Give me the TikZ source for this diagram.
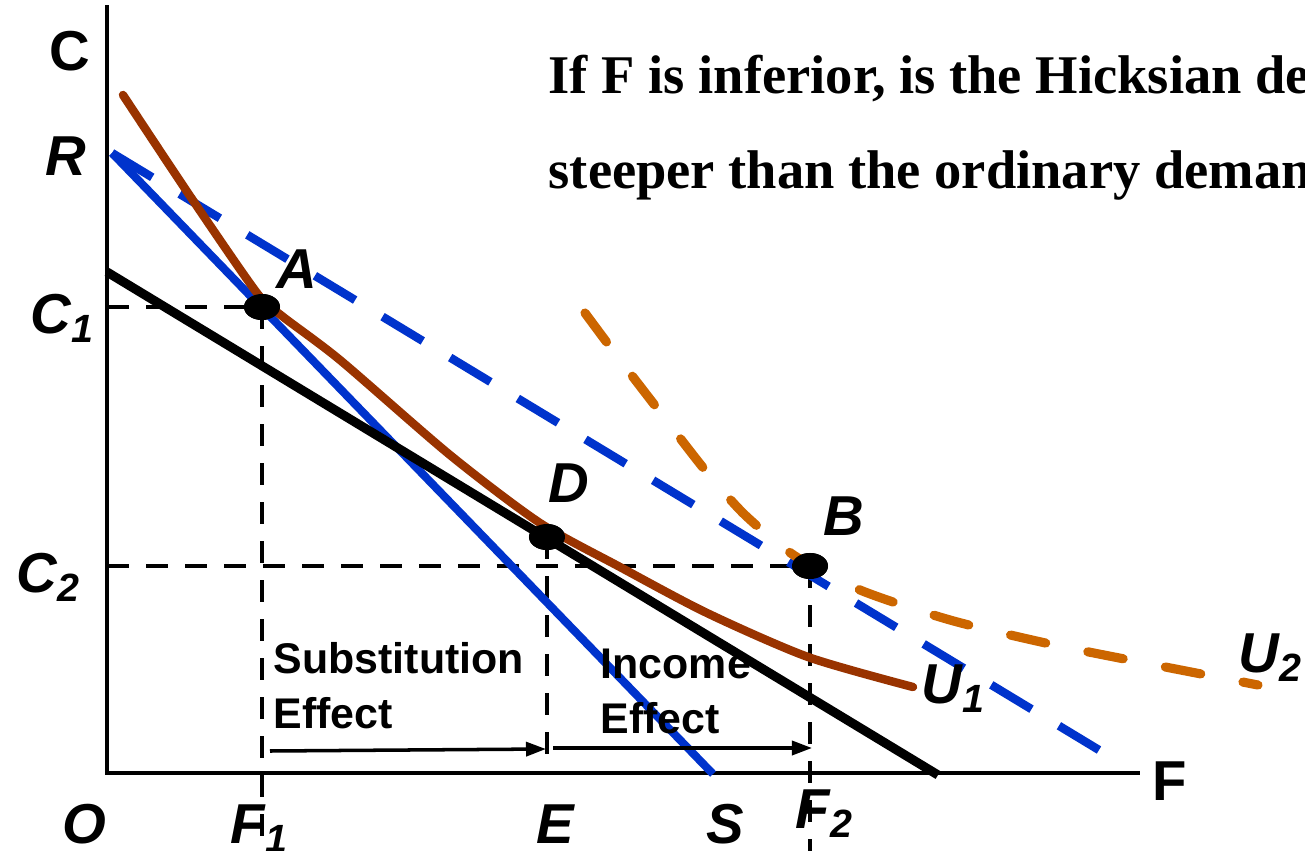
\documentclass[tikz,border=0pt]{standalone}
\usepackage{fontspec}
\setmainfont{Liberation Serif}
\newfontfamily\arialfont{Liberation Sans}
\usetikzlibrary{arrows.meta,shapes.geometric}
\definecolor{lineblue}{HTML}{0033CC}
\definecolor{ubrown}{HTML}{993300}
\definecolor{uorange}{HTML}{CC6600}
\begin{document}
\begin{tikzpicture}[x=0.01cm,y=-0.01cm,
  axisline/.style={line width=1.2pt},
  guide/.style={line width=1pt, dash pattern=on 0.22cm off 0.17cm},
  budget/.style={line width=2.6pt},
  bluesolid/.style={lineblue, line width=2.3pt},
  bluedash/.style={lineblue, line width=2.4pt, dash pattern=on 0.47cm off 0.32cm},
  ucurve/.style={ubrown, line width=2.4pt, line cap=round},
  udash/.style={uorange, line width=2.6pt, line cap=round, dash pattern=on 0.36cm off 0.43cm},
  effarrow/.style={line width=1pt, -{Triangle[length=0.2cm, width=0.14cm]}},
  dot/.style={ellipse, fill=black, minimum width=0.36cm, minimum height=0.26cm, inner sep=0pt},
  lab/.style={font=\arialfont\bfseries\itshape\fontsize{16}{19}\selectfont, anchor=base west, inner sep=0pt},
  axlab/.style={font=\arialfont\bfseries\fontsize{16}{19}\selectfont, anchor=base, inner sep=0pt},
  efftext/.style={font=\arialfont\bfseries\fontsize{12.2}{14}\selectfont, anchor=base west, inner sep=0pt},
  titletext/.style={font=\bfseries\fontsize{15.5}{19}\selectfont, anchor=base west, inner sep=0pt}
]
\clip (0,0) rectangle (1305,851);
\fill[white] (0,0) rectangle (1305,851);

% key coordinates
\coordinate (O) at (107,773);
\coordinate (Ctop) at (107,5);
\coordinate (Fend) at (1140,773);
\coordinate (bot) at (0,851);
\coordinate (R) at (112,153);
\coordinate (S) at (713,774);
\coordinate (Rd) at (1099,750);
\coordinate (M1) at (107,272);
\coordinate (M2) at (938,775);

% points
\node[dot] (A) at (262,307) {};
\node[dot] (D) at (547,537) {};
\node[dot] (B) at (810,566) {};

% axes
\draw[axisline] (Ctop) -- (O) -- (Fend);

% guide lines
\draw[guide] (A.center -| O) -- (A.center);
\draw[guide] (A.center) -- (A.center |- bot);
\draw[guide] (B.center -| O) -- (B.center);
\draw[guide] (D.center) -- (D.center |- O);
\draw[guide] (B.center) -- (B.center |- bot);

% budget lines
\draw[bluesolid] (R) -- (S);
\draw[bluedash] (R) -- (Rd);

% indifference curve U1
\draw[ucurve] plot[smooth, tension=0.45] coordinates {(123,95) (190,196) (257,293) (282,316) (340,360) (450,455) (540,523) (620,567) (707,613) (808,657) (913,687)};

% budget line M
\draw[budget] (M1) -- (M2);

% indifference curve U2
\draw[udash] plot[smooth, tension=0.45] coordinates {(585,313) (620,360) (660,412) (705,470) (745,515) (795,556) (860,590) (950,620) (1050,644) (1150,664) (1258,685)};

% redraw dots on top
\node[dot] at (A) {};
\node[dot] at (D) {};
\node[dot] at (B) {};

% effect arrows
\coordinate (s1) at (270,751);
\coordinate (s2) at (546,749);
\coordinate (i1) at (553,748);
\coordinate (i2) at (812,748);
\draw[effarrow] (s1) -- (s2);
\draw[effarrow] (i1) -- (i2);

% texts
\node[titletext] (t1) at (548,93) {If F is inferior, is the Hicksian de};
\node[titletext] (t2) at (548,188) {steeper than the ordinary deman};

\node[efftext] (sub1) at (273,673) {Substitution};
\node[efftext] (sub2) at (273,728) {Effect};
\node[efftext] (inc1) at (600,678) {Income};
\node[efftext] (inc2) at (600,733) {Effect};

\node[axlab] (labC) at (70,70) {C};
\node[axlab] (labF) at (1170,800) {F};
\node[lab] (labR) at (45,175) {R};
\node[lab] (labC1) at (30,333) {C\textsubscript{1}};
\node[lab] (labC2) at (16,592) {C\textsubscript{2}};
\node[lab] (labO) at (62,843) {O};
\node[lab] (labF1) at (230,843) {F\textsubscript{1}};
\node[lab] (labE) at (536,843) {E};
\node[lab] (labS) at (706,843) {S};
\node[lab] (labF2) at (795,828) {F\textsubscript{2}};
\node[lab] (labA) at (276,288) {A};
\node[lab] (labD) at (548,502) {D};
\node[lab] (labB) at (823,535) {B};
\node[lab] (labU1) at (921,703) {U\textsubscript{1}};
\node[lab] (labU2) at (1238,672) {U\textsubscript{2}};
\end{tikzpicture}
\end{document}
